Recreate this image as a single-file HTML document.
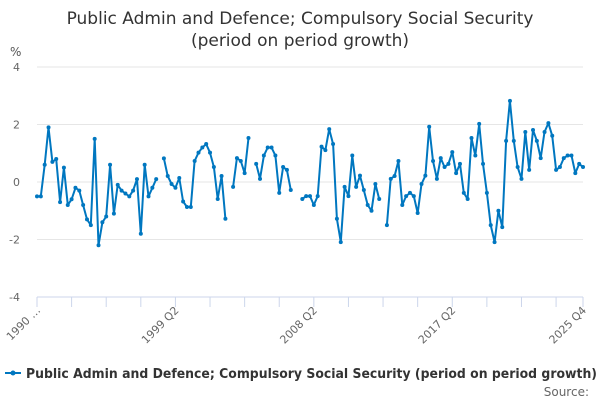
<!DOCTYPE html>
<html><head><meta charset="utf-8"><style>
body{margin:0;background:#fff;font-family:"Liberation Sans",sans-serif;}
svg text{font-family:"DejaVu Sans","Liberation Sans",sans-serif;}
</style></head><body>
<svg width="600" height="400" xmlns="http://www.w3.org/2000/svg">
<text x="300" y="24" text-anchor="middle" font-size="17" fill="#333">Public Admin and Defence; Compulsory Social Security</text>
<text x="300" y="46" text-anchor="middle" font-size="17" fill="#333">(period on period growth)</text>
<text x="10" y="56" font-size="12" fill="#555">%</text>
<g id="grid"></g>
<g id="xaxis"></g>
<g id="series"></g>
<g>
<line x1="5" y1="373" x2="21" y2="373" stroke="#0077c0" stroke-width="2"/>
<circle cx="13" cy="373" r="2.5" fill="#0077c0"/>
<text x="26" y="378" font-size="13" font-weight="bold" fill="#333" textLength="571" lengthAdjust="spacingAndGlyphs">Public Admin and Defence; Compulsory Social Security (period on period growth)</text>
</g>
<text x="589" y="396" text-anchor="end" font-size="12" fill="#666">Source:</text>
</svg>
<script>
const values=[-0.5,-0.5,0.6,1.9,0.7,0.8,-0.7,0.5,-0.8,-0.6,-0.2,-0.3,-0.8,-1.3,-1.5,1.5,-2.2,-1.4,-1.2,0.6,-1.1,-0.1,-0.3,-0.4,-0.5,-0.3,0.1,-1.8,0.6,-0.5,-0.2,0.1,
null,
0.82,0.21,-0.07,-0.2,0.14,-0.68,-0.87,-0.87,0.73,1.02,1.2,1.32,1.02,0.52,-0.59,0.21,-1.28,
null,
-0.17,0.83,0.73,0.31,1.53,
null,
0.63,0.11,0.92,1.2,1.2,0.92,-0.38,0.52,0.42,-0.28,
null,null,
-0.59,-0.49,-0.49,-0.8,-0.49,1.23,1.11,1.84,1.32,-1.28,-2.09,-0.17,-0.49,0.92,-0.17,0.22,-0.28,-0.8,-1,-0.07,-0.59,
null,
-1.5,0.11,0.21,0.73,-0.8,-0.49,-0.38,-0.49,-1.08,-0.07,0.22,1.92,
0.73,0.11,0.83,0.52,0.63,1.04,0.31,0.63,-0.38,-0.59,1.53,0.92,2.02,0.63,-0.38,-1.5,-2.09,-1,-1.57,1.43,2.82,1.43,0.52,0.11,1.74,0.42,1.81,1.43,0.83,1.74,2.05,1.61,0.42,0.52,0.83,0.92,0.92,0.31,0.63,0.52];
const yTicks=[4,2,0,-2,-4];
const xTickLabels=["1990 …","1999 Q2","2008 Q2","2017 Q2","2025 Q4"];
const xTickIdx=[0,36,72,108,142];
const categories=[];
for(let i=0;i<values.length;i++){const q=i+1;categories.push((1990+Math.floor(q/4))+" Q"+(q%4+1));}
const NS="http://www.w3.org/2000/svg";
const X0=37,X1=583,Y0=67,Y1=297;
const n=values.length;
const x=i=>X0+(X1-X0)*i/(n-1);
const y=v=>Y0+(4-v)/8*(Y1-Y0);
function mk(t,a,p){const e=document.createElementNS(NS,t);for(const k in a)e.setAttribute(k,a[k]);p.appendChild(e);return e;}
const grid=document.getElementById('grid');
yTicks.forEach(v=>{
 const l=mk('line',{x1:X0,x2:X1,y1:y(v),y2:y(v),stroke:v===-4?'#ccd6eb':'#e6e6e6','stroke-width':1},grid);
 
 
 const t=mk('text',{x:20,y:y(v)+4,'text-anchor':'end','font-size':11,fill:'#666'},grid);
 t.textContent=v;
 
 
});
const xa=document.getElementById('xaxis');
for(let i=0;i<n;i+=9){
 const tk=mk('line',{x1:x(i),x2:x(i),y1:Y1,y2:Y1+10,stroke:'#ccd6eb'},xa);
 
 
}
const tkEnd=mk('line',{x1:x(n-1),x2:x(n-1),y1:Y1,y2:Y1+10,stroke:'#ccd6eb'},xa);


xTickLabels.forEach((lab,k)=>{
 const px=x(xTickIdx[k])+4,py=Y1+14;
 const t=mk('text',{x:px,y:py,'text-anchor':'end','font-size':11,fill:'#666',transform:`rotate(-45 ${px} ${py})`},xa);
 t.textContent=lab;
 
 
});
const sg=document.getElementById('series');
let d='',pen=false;
values.forEach((v,i)=>{if(v===null){pen=false;return;}d+=(pen?'L':'M')+x(i).toFixed(1)+' '+y(v).toFixed(1);pen=true;});
const path=mk('path',{d:d,fill:'none',stroke:'#0077c0','stroke-width':2,'stroke-linejoin':'round'},sg);


values.forEach((v,i)=>{if(v===null)return;
 const c=mk('circle',{cx:x(i),cy:y(v),r:2,fill:'#0077c0'},sg);
 
 
});
</script>
</body></html>
